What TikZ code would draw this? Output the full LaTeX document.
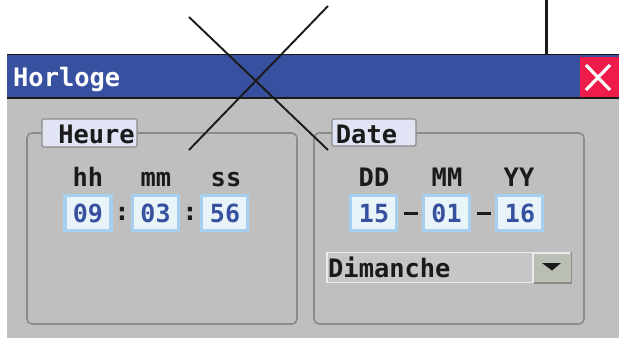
\documentclass[tikz,border=0pt]{standalone}
\usepackage{fontspec}
\setmonofont{DejaVu Sans Mono}
\definecolor{winbg}{HTML}{BFBFBF}
\definecolor{titleblue}{HTML}{3750A0}
\definecolor{closered}{HTML}{EE1C4A}
\definecolor{grpline}{HTML}{8A8C8A}
\definecolor{tabfill}{HTML}{E0E4F4}
\definecolor{fieldfill}{HTML}{E9F4F8}
\definecolor{fieldline}{HTML}{A6CFF0}
\definecolor{btnfill}{HTML}{B9BFB4}
\definecolor{ddfill}{HTML}{C6C6C6}
\definecolor{ink}{HTML}{1A1A1A}
\tikzset{
  x=1pt,y=-1pt,
  txt/.style={font=\ttfamily\bfseries\fontsize{25.4}{25}\selectfont,text=ink,inner sep=0pt,anchor=base},
  title/.style={font=\ttfamily\bfseries\fontsize{25.4}{25}\selectfont,text=white,inner sep=0pt,anchor=base west},
  grp/.style={draw=grpline,line width=1.6pt,rounded corners=5pt},
  tabbox/.style={draw=grpline,line width=1.4pt,fill=tabfill,rounded corners=1.5pt,inner sep=0pt},
  field/.style={draw=fieldline,line width=3.4pt,fill=fieldfill,minimum width=46pt,minimum height=35pt,inner sep=0pt},
  fieldtxt/.style={font=\ttfamily\bfseries\fontsize{25}{25}\selectfont,text=titleblue,inner sep=0pt,anchor=base},
  cross/.style={draw=ink,line width=1.9pt},
}
\begin{document}
\begin{tikzpicture}
\useasboundingbox (0,0) rectangle (619,338);
\fill[white] (0,0) rectangle (619,338);
% window
\fill[winbg] (7,54) rectangle (619,338);
\fill[titleblue] (7,54) rectangle (619,98);
\fill[closered] (580,57) rectangle (619,97);
\draw[ink,line width=1pt] (7,54.5) -- (619,54.5);
\draw[ink,line width=1.4pt] (7,98) -- (619,98);
\draw[white,line width=3.2pt] (586,65) -- (610,90) (610,65) -- (586,90);
\node[title] (wintitle) at (13,86) {Horloge};
% groups
\draw[grp] (27,133) rectangle (297,324);
\draw[grp] (314,133) rectangle (584,324);
\node[tabbox,minimum width=95pt,minimum height=28pt] (heure) at (89.5,133) {};
\node[tabbox,minimum width=84pt,minimum height=27pt] (date) at (374,132.5) {};
\node[txt] (heuretxt) at (96.5,143) {Heure};
\node[txt] (datetxt) at (366.5,143) {Date};
% time
\node[txt] (hh) at (88,186) {hh};
\node[txt] (mm) at (156,186) {mm};
\node[txt] (ss) at (226,186) {ss};
\node[field] (f1) at (88,213) {};
\node[field] (f2) at (155.5,213) {};
\node[field] (f3) at (224.5,213) {};
\node[fieldtxt] at (88,222) {09};
\node[fieldtxt] at (155.5,222) {03};
\node[fieldtxt] at (225,222) {56};
\node[txt] (c1) at (122,220) {:};
\node[txt] (c2) at (190,220) {:};
% date
\node[txt] (dd) at (374,186) {DD};
\node[txt] (mo) at (447,186) {MM};
\node[txt] (yy) at (519,186) {YY};
\node[field] (f4) at (373.5,213) {};
\node[field] (f5) at (446.5,213) {};
\node[field] (f6) at (519.5,213) {};
\node[fieldtxt] at (374,222) {15};
\node[fieldtxt] at (446.5,222) {01};
\node[fieldtxt] at (520,222) {16};
\fill[ink] (404,211.5) rectangle (418,215);
\fill[ink] (477,211.5) rectangle (491,215);
% dropdown
\fill[ddfill] (327,253) rectangle (533,283);
\draw[white!92!black,line width=1.5pt] (327,283) -- (327,252.5) -- (533,252.5) (327,282.5) -- (533,282.5);
\fill[btnfill] (533,253) rectangle (572,283);
\draw[white!92!black,line width=1.5pt] (533,283) -- (533,253) -- (570,253);
\draw[grpline,line width=1.5pt] (571.5,252) -- (571.5,283) -- (534,283);
\fill[ink] (542,263) -- (561,263) -- (552,270.5) -- cycle;
\node[txt,anchor=base west] (dayname) at (328,277) {Dimanche};
% overlaid lines
\coordinate (a1) at (189,17);
\coordinate (a2) at (328,150);
\coordinate (b1) at (189,150);
\coordinate (b2) at (328,6);
\coordinate (v1) at (546,0);
\coordinate (v2) at (546,54);
\draw[cross] (a1) -- (a2);
\draw[cross] (b1) -- (b2);
\draw[draw=ink,line width=3pt] (v1) -- (v2);
\end{tikzpicture}
\end{document}
